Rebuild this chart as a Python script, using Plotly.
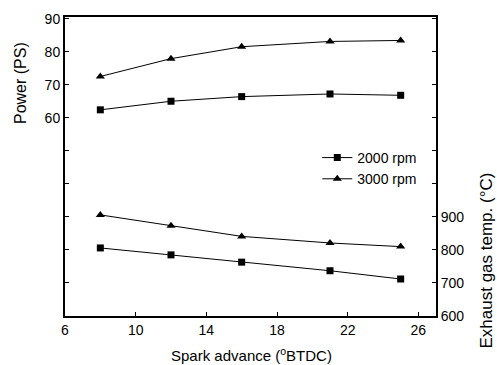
import plotly.graph_objects as go

spark = [8, 12, 16, 21, 25]
power_2000 = [62.4, 65.0, 66.4, 67.2, 66.8]
power_3000 = [72.5, 77.9, 81.5, 83.1, 83.4]
temp_2000 = [806, 785, 763, 737, 712]
temp_3000 = [906, 873, 841, 821, 810]

x_ticks = [6, 10, 14, 18, 22, 26]
left_ticks = list(range(0, 91, 10))
left_text = [str(v) if v >= 60 else "" for v in left_ticks]
right_ticks = list(range(600, 1501, 100))
right_text = [str(v) if v <= 900 else "" for v in right_ticks]

FONT = "Liberation Sans, Arial, sans-serif"
line = dict(color="black", width=1)

fig = go.Figure()
fig.add_trace(go.Scatter(x=spark, y=power_2000, mode="lines+markers", name="2000 rpm",
                         line=line, marker=dict(symbol="square", size=7, color="black"),
                         legendgroup="a"))
fig.add_trace(go.Scatter(x=spark, y=power_3000, mode="lines+markers", name="3000 rpm",
                         line=line, marker=dict(symbol="triangle-up", size=8, color="black"),
                         legendgroup="b"))
fig.add_trace(go.Scatter(x=spark, y=temp_2000, mode="lines+markers", showlegend=False,
                         line=line, marker=dict(symbol="square", size=7, color="black"),
                         yaxis="y2"))
fig.add_trace(go.Scatter(x=spark, y=temp_3000, mode="lines+markers", showlegend=False,
                         line=line, marker=dict(symbol="triangle-up", size=8, color="black"),
                         yaxis="y2"))

axis_common = dict(showline=True, linecolor="black", linewidth=2,
                   ticks="inside", ticklen=4, tickwidth=1, tickcolor="black",
                   showgrid=False, zeroline=False,
                   tickfont=dict(family=FONT, size=14, color="black"))

fig.update_layout(
    width=497, height=365,
    margin=dict(l=65, r=61, t=11, b=49),
    paper_bgcolor="white", plot_bgcolor="white",
    font=dict(family=FONT, color="black"),
    xaxis=dict(range=[6, 27], tickvals=x_ticks, mirror=True, **axis_common),
    yaxis=dict(range=[0, 90.5], tickvals=left_ticks, ticktext=left_text, mirror=False, **axis_common),
    yaxis2=dict(range=[600, 1505], tickvals=right_ticks, ticktext=right_text,
                overlaying="y", side="right", mirror=False, **axis_common),
    legend=dict(x=0.68, y=0.582, xanchor="left", yanchor="top",
                font=dict(family=FONT, size=14, color="black"),
                bgcolor="rgba(0,0,0,0)", tracegroupgap=0, itemwidth=30),
    showlegend=True,
)

fig.add_annotation(text="Power (PS)", xref="paper", yref="paper", x=-0.118, y=0.78,
                   textangle=-90, showarrow=False, font=dict(family=FONT, size=16, color="black"),
                   xanchor="center", yanchor="middle")
fig.add_annotation(text="Exhaust gas temp. (°C)", xref="paper", yref="paper", x=1.137, y=0.185,
                   textangle=-90, showarrow=False, font=dict(family=FONT, size=17, color="black"),
                   xanchor="center", yanchor="middle")
fig.add_annotation(text="Spark advance (<sup>o</sup>BTDC)", xref="paper", yref="paper", x=0.504, y=-0.13,
                   showarrow=False, font=dict(family=FONT, size=15, color="black"),
                   xanchor="center", yanchor="middle")

fig.write_html("out.html")
